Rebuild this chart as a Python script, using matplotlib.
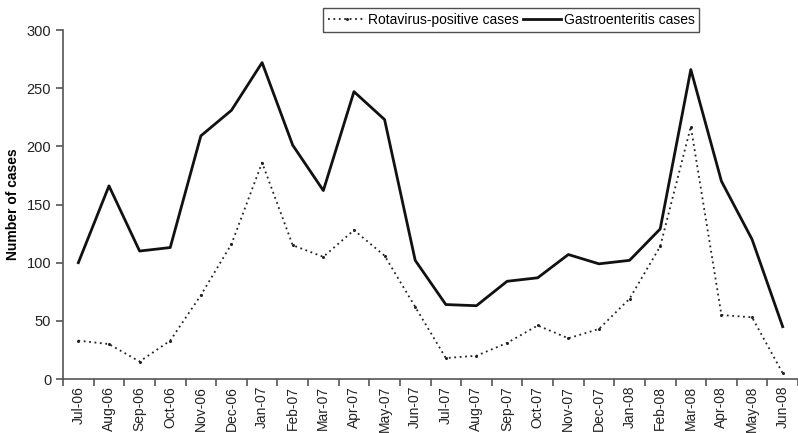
import matplotlib
matplotlib.use("Agg")
import matplotlib.pyplot as plt

months = ["Jul-06", "Aug-06", "Sep-06", "Oct-06", "Nov-06", "Dec-06", "Jan-07", "Feb-07",
          "Mar-07", "Apr-07", "May-07", "Jun-07", "Jul-07", "Aug-07", "Sep-07", "Oct-07",
          "Nov-07", "Dec-07", "Jan-08", "Feb-08", "Mar-08", "Apr-08", "May-08", "Jun-08"]
rotavirus = [33, 30, 15, 33, 72, 116, 186, 115, 105, 128, 106, 62, 18, 20, 31, 46,
             35, 43, 69, 114, 217, 55, 53, 5]
gastro = [100, 166, 110, 113, 209, 231, 272, 201, 162, 247, 223, 102, 64, 63, 84, 87,
          107, 99, 102, 129, 266, 170, 120, 45]
yticks = [0, 50, 100, 150, 200, 250, 300]

plt.rcParams['font.family'] = ['Liberation Sans', 'DejaVu Sans']

fig = plt.figure(figsize=(7.98, 4.33), dpi=100)
ax = fig.add_axes([0.079, 0.1247, 0.921, 0.806])

x = list(range(len(months)))
ax.plot(x, rotavirus, linestyle=(0, (1, 2)), color='#222222', lw=1.3,
        marker='o', markersize=2.2, markeredgewidth=0, label='Rotavirus-positive cases')
ax.plot(x, gastro, linestyle='-', color='#111111', lw=2.0, label='Gastroenteritis cases')

ax.set_xlim(-0.5, len(months) - 0.5)
ax.set_ylim(0, 300)
ax.set_yticks(yticks)
ax.tick_params(axis='y', labelsize=10.5, colors='#222222', length=5, width=1.2, color='#555555')
ax.set_xticks(x)
ax.set_xticklabels(months, rotation=90, fontsize=10, color='#222222')
ax.set_xticks([i - 0.5 for i in range(len(months) + 1)], minor=True)
ax.tick_params(axis='x', which='major', length=0, pad=5)
ax.tick_params(axis='x', which='minor', length=5, width=1.2, color='#555555')

for s in ['top', 'right']:
    ax.spines[s].set_visible(False)
for s in ['left', 'bottom']:
    ax.spines[s].set_color('#555555')
    ax.spines[s].set_linewidth(1.2)

ax.set_ylabel('Number of cases', fontsize=10, fontweight='bold', labelpad=5)

leg = ax.legend(loc='upper left', bbox_to_anchor=(0.354, 1.063), ncol=2, frameon=True,
                fancybox=False, edgecolor='#222222', fontsize=10, handlelength=2.7,
                handletextpad=0.2, columnspacing=0.3, borderpad=0.35, borderaxespad=0)
leg.get_frame().set_linewidth(1.0)

fig.savefig('out.png', dpi=100)
